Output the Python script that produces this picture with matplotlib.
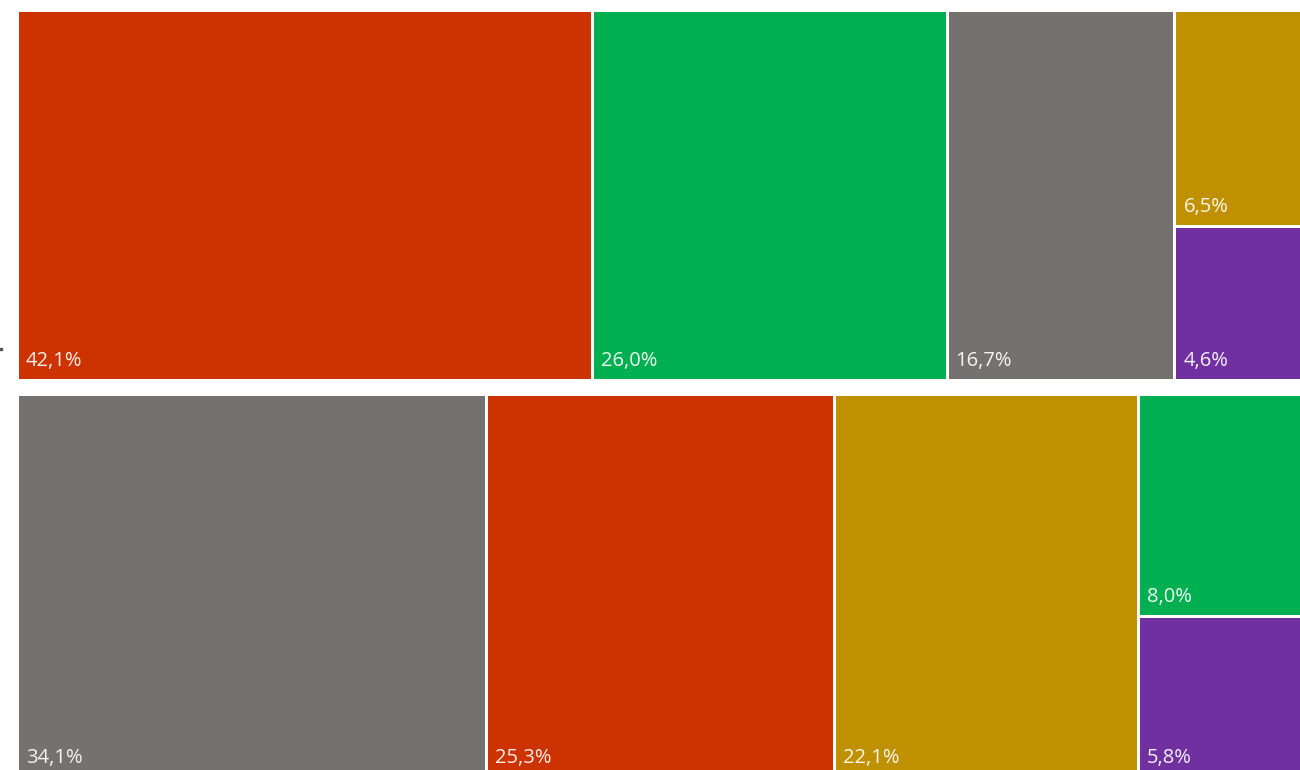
import matplotlib
matplotlib.use("Agg")
import matplotlib.pyplot as plt
from matplotlib.patches import Rectangle

# ---- data ----
top_values = [42.1, 26.0, 16.7, 6.5, 4.6]
top_colors = ["#CC3300", "#00B050", "#767171", "#BF9000", "#7030A0"]
bottom_values = [34.1, 25.3, 22.1, 8.0, 5.8]
bottom_colors = ["#767171", "#CC3300", "#BF9000", "#00B050", "#7030A0"]

W, H = 1300, 770
fig = plt.figure(figsize=(W / 100, H / 100), dpi=100)
fig.patch.set_facecolor("white")

EDGE_LW = 3 * 72 / 100  # 3 px white gap


def label(v):
    return f"{v:.1f}".replace(".", ",") + "%"


def draw_row(values, colors, top_px, bottom_px, left_px=17, right_px=1329):
    ax = fig.add_axes([left_px / W, 1 - bottom_px / H,
                       (right_px - left_px) / W, (bottom_px - top_px) / H])
    total = sum(values)
    ax.set_xlim(0, total)
    ax.set_ylim(0, 1)
    ax.axis("off")
    # columns: first three single, last two stacked
    columns = [[0], [1], [2], [3, 4]]
    x = 0.0
    for col in columns:
        cw = sum(values[i] for i in col)
        ytop = 1.0
        for i in col:
            h = values[i] / cw
            ax.bar(x, h, width=cw, bottom=ytop - h, align="edge",
                   color=colors[i], edgecolor="white", linewidth=EDGE_LW)
            ax.annotate(label(values[i]), xy=(x, ytop - h), xycoords="data",
                        xytext=(6.5, 10), textcoords="offset points",
                        ha="left", va="baseline", color="white", alpha=0.92,
                        fontsize=14.5, family=["Open Sans", "DejaVu Sans"])
            ytop -= h
        x += cw
    return ax


draw_row(top_values, top_colors, 9.5, 379.5, right_px=1326)
draw_row(bottom_values, bottom_colors, 393.5, 776.5, right_px=1328)

# small stray tick mark at left edge
fig.add_artist(Rectangle((0 / W, 1 - 350 / H), 2 / W, 2 / H,
                         transform=fig.transFigure, color="#555555"))

fig.savefig("out.png", dpi=100, facecolor="white")
